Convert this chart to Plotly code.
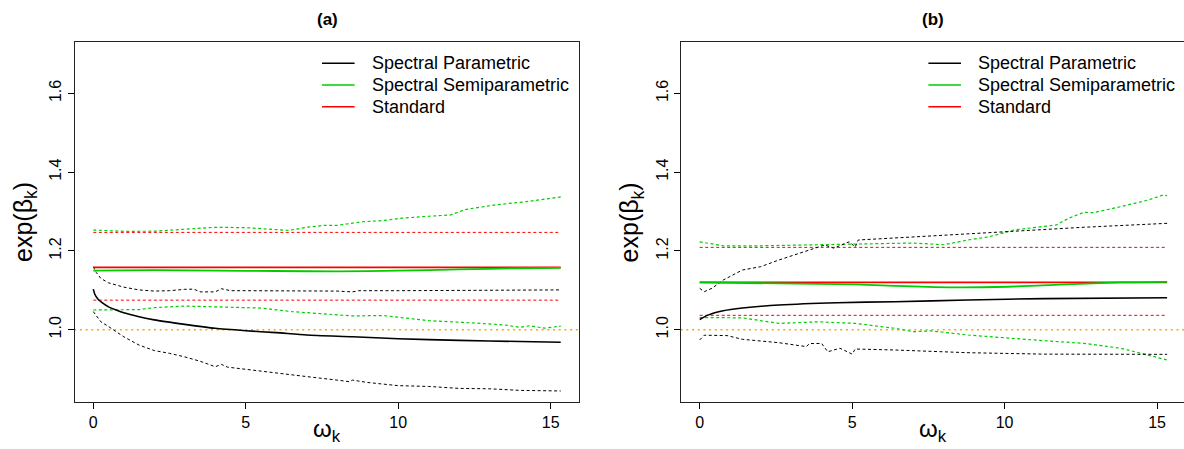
import plotly.graph_objects as go

# ---------------- data: panel (a) ----------------
a_par_x = [0, 0.05, 0.15, 0.3, 0.5, 0.75, 1, 1.5, 2, 3, 4, 5, 6, 7, 8.5, 10, 12, 14, 15.33]
a_par_y = [1.103, 1.09, 1.078, 1.068, 1.058, 1.05, 1.043, 1.033, 1.025, 1.0136, 1.0035, 0.9975,
           0.9925, 0.9865, 0.982, 0.977, 0.973, 0.970, 0.968]

a_par_up_x = [0, 0.1, 0.25, 0.5, 1, 1.5, 2, 2.5, 3, 3.3, 3.5, 4.0, 4.2, 4.5, 5, 6, 7, 8, 8.5, 8.7,
              10, 12, 14, 15.33]
a_par_up_y = [1.16, 1.145, 1.13, 1.119, 1.108, 1.101, 1.098, 1.099, 1.1025, 1.103, 1.096, 1.096,
              1.104, 1.099, 1.099, 1.099, 1.099, 1.098, 1.096, 1.099, 1.099, 1.1, 1.1, 1.101]

a_par_lo_x = [0, 0.1, 0.25, 0.5, 1, 1.5, 2, 2.5, 3, 3.5, 4, 4.2, 4.4, 5, 6, 7, 8, 8.4, 8.5, 9,
              10, 11, 12, 13, 14, 15.33]
a_par_lo_y = [1.046, 1.035, 1.02, 1.008, 0.982, 0.961, 0.947, 0.94, 0.931, 0.92, 0.906, 0.912,
              0.905, 0.8995, 0.891, 0.881, 0.872, 0.868, 0.872, 0.866, 0.858, 0.856, 0.851, 0.85,
              0.846, 0.8445]

a_semi_x = [0, 2, 4, 6, 8, 10, 12, 14, 15.33]
a_semi_y = [1.15, 1.151, 1.15, 1.149, 1.148, 1.150, 1.153, 1.156, 1.157]

a_semi_up_x = [0, 0.5, 1, 2, 3, 4, 5, 6, 6.4, 7, 7.6, 8, 8.85, 9.5, 10.1, 11, 11.7, 12.2, 13.2,
               14.2, 14.85, 15.33]
a_semi_up_y = [1.253, 1.251, 1.2497, 1.25, 1.2547, 1.26, 1.259, 1.254, 1.252, 1.26, 1.265, 1.265,
               1.274, 1.277, 1.283, 1.288, 1.291, 1.305, 1.317, 1.325, 1.332, 1.337]

a_semi_lo_x = [0, 1.5, 2, 2.5, 3, 4, 5.5, 6.5, 7.2, 8.5, 9.5, 11, 12.5, 13.5, 14, 14.3, 14.8, 15.33]
a_semi_lo_y = [1.05, 1.051, 1.056, 1.058, 1.06, 1.058, 1.055, 1.046, 1.042, 1.035, 1.036, 1.023,
               1.017, 1.012, 1.006, 1.01, 1.004, 1.009]

a_std = 1.158
a_std_up = 1.247
a_std_lo = 1.075

# ---------------- data: panel (b) ----------------
b_par_x = [0, 0.27, 0.77, 1.4, 2.6, 4.5, 6.4, 8.8, 11.3, 15.33]
b_par_y = [1.026, 1.037, 1.048, 1.055, 1.0627, 1.0686, 1.071, 1.0754, 1.079, 1.081]

b_par_up_x = [0, 0.15, 0.4, 0.77, 1.4, 2.0, 2.6, 3.6, 4.1, 4.4, 4.9, 5.1, 5.2, 7.6, 10.1, 12.6,
              15.33]
b_par_up_y = [1.105, 1.0965, 1.105, 1.126, 1.1515, 1.16, 1.177, 1.202, 1.215, 1.207, 1.223, 1.21,
              1.2277, 1.238, 1.249, 1.26, 1.27]

b_par_lo_x = [0, 0.15, 0.9, 1.4, 2.6, 3.5, 3.6, 4.0, 4.2, 4.6, 5.0, 5.1, 6.4, 8.8, 11.3, 15.33]
b_par_lo_y = [0.974, 0.986, 0.985, 0.9756, 0.967, 0.957, 0.965, 0.965, 0.944, 0.953, 0.938, 0.951,
              0.9485, 0.9416, 0.938, 0.9375]

b_semi_x = [0, 2.6, 5.1, 6.4, 8.2, 10.1, 12, 13.8, 15.33]
b_semi_y = [1.12, 1.1175, 1.115, 1.111, 1.1075, 1.109, 1.115, 1.12, 1.1215]

b_semi_up_x = [0, 0.77, 2.0, 3.3, 5.1, 7.0, 8.0, 8.8, 9.5, 10.3, 11.7, 12.1, 12.6, 12.9, 13.8,
               14.7, 15.2, 15.33]
b_semi_up_y = [1.223, 1.213, 1.213, 1.215, 1.219, 1.22, 1.2156, 1.2277, 1.236, 1.253, 1.266, 1.283,
               1.298, 1.297, 1.312, 1.329, 1.342, 1.34]

b_semi_lo_x = [0, 1.4, 2.6, 3.9, 5.1, 6.4, 7.0, 7.6, 8.8, 10.1, 11.3, 12.6, 13.8, 14.4, 15.33]
b_semi_lo_y = [1.031, 1.03, 1.016, 1.02, 1.016, 1.0035, 0.995, 0.997, 0.9865, 0.978, 0.972,
               0.9655, 0.953, 0.9416, 0.923]

b_std = 1.120
b_std_up = 1.209
b_std_lo = 1.0365

x_end = 15.33
ref_level = 1.0

legend_labels = ["Spectral Parametric", "Spectral Semiparametric", "Standard"]
panel_titles = ["(a)", "(b)"]
x_ticks = [0, 5, 10, 15]
y_ticks = [1.0, 1.2, 1.4, 1.6]

# ---------------- styling ----------------
FONT = "Liberation Sans, Arial, Helvetica, sans-serif"
BLACK = "#000000"
GREEN = "#00cd00"
RED = "#ff0000"
ORANGE = "#ffa500"
DASH = "3px,2.5px"

W, H = 1184, 449


def px_x(p):
    return p / W


def px_y(p):
    return 1 - p / H


fig = go.Figure()


def add_line(xs, ys, color, width, dash=None, axis=1, smooth=False):
    fig.add_trace(go.Scatter(
        x=xs, y=ys, mode="lines",
        line=dict(color=color, width=width, dash=dash or "solid",
                  shape="spline" if smooth else "linear", smoothing=0.6),
        xaxis="x" if axis == 1 else "x2",
        yaxis="y" if axis == 1 else "y2",
        showlegend=False, hoverinfo="skip",
    ))


panels = [
    dict(par=(a_par_x, a_par_y), par_up=(a_par_up_x, a_par_up_y), par_lo=(a_par_lo_x, a_par_lo_y),
         semi=(a_semi_x, a_semi_y), semi_up=(a_semi_up_x, a_semi_up_y),
         semi_lo=(a_semi_lo_x, a_semi_lo_y), std=a_std, std_up=a_std_up, std_lo=a_std_lo),
    dict(par=(b_par_x, b_par_y), par_up=(b_par_up_x, b_par_up_y), par_lo=(b_par_lo_x, b_par_lo_y),
         semi=(b_semi_x, b_semi_y), semi_up=(b_semi_up_x, b_semi_up_y),
         semi_lo=(b_semi_lo_x, b_semi_lo_y), std=b_std, std_up=b_std_up, std_lo=b_std_lo),
]

for i, p in enumerate(panels, start=1):
    # reference level across the whole plotting region
    add_line([-1, 17], [ref_level, ref_level], ORANGE, 1.6, dash="2px,3.7px", axis=i)
    # standard estimate and interval
    add_line([0, x_end], [p["std_up"]] * 2, RED, 1, DASH, axis=i)
    add_line([0, x_end], [p["std_lo"]] * 2, RED, 1, DASH, axis=i)
    # spectral semiparametric interval
    add_line(*p["semi_up"], GREEN, 1.2, DASH, axis=i)
    add_line(*p["semi_lo"], GREEN, 1.2, DASH, axis=i)
    # spectral parametric interval
    add_line(*p["par_up"], BLACK, 1, DASH, axis=i)
    add_line(*p["par_lo"], BLACK, 1, DASH, axis=i)
    # point estimates
    add_line([0, x_end], [p["std"]] * 2, RED, 1.8, axis=i)
    add_line(*p["semi"], GREEN, 1.8, axis=i, smooth=True)
    add_line(*p["par"], BLACK, 1.6, axis=i, smooth=True)

# plotting regions (pixel geometry of the two panels)
box_top, box_bot = 41.7, 402.0
a_left, a_right, a_zero = 74.7, 578.7, 93.3
b_left, b_right, b_zero = 681.0, 1184.0, 699.7
ppu = 30.49  # pixels per unit of omega
y_lo, y_hi = 0.8165, 1.731

common_x = dict(
    tickvals=x_ticks, ticktext=[str(t) for t in x_ticks],
    ticks="outside", ticklen=6, tickwidth=1, tickcolor=BLACK,
    showline=True, linecolor="#222", linewidth=1, mirror=True,
    showgrid=False, zeroline=False,
    tickfont=dict(family=FONT, size=16, color=BLACK),
)
common_y = dict(
    range=[y_lo, y_hi],
    domain=[px_y(box_bot), px_y(box_top)],
    tickvals=y_ticks, ticktext=["%.1f" % t for t in y_ticks],
    tickangle=-90,
    ticks="outside", ticklen=6, tickwidth=1, tickcolor=BLACK,
    showline=True, linecolor="#222", linewidth=1,
    showgrid=False, zeroline=False,
    tickfont=dict(family=FONT, size=16, color=BLACK),
)

fig.update_layout(
    width=W, height=H, autosize=False,
    margin=dict(l=0, r=0, t=0, b=0, pad=0),
    paper_bgcolor="white", plot_bgcolor="white",
    showlegend=False,
    xaxis=dict(common_x, domain=[px_x(a_left), px_x(a_right)],
               range=[(a_left - a_zero) / ppu, (a_right - a_zero) / ppu], anchor="y"),
    yaxis=dict(common_y, mirror=True, anchor="x"),
    xaxis2=dict(common_x, domain=[px_x(b_left), px_x(b_right)],
                range=[(b_left - b_zero) / ppu, (b_right - b_zero) / ppu], anchor="y2"),
    yaxis2=dict(common_y, mirror=False, anchor="x2"),
)

shapes = []
annotations = []
legend_colors = [BLACK, GREEN, RED]
legend_rows = [63.3, 85.0, 106.7]

for k, (left, right) in enumerate([(a_left, a_right + 1), (b_left, b_left + 504)]):
    off = 0 if k == 0 else b_zero - a_zero
    cx = (left + right) / 2
    # panel title
    annotations.append(dict(
        text="<b>%s</b>" % panel_titles[k], x=px_x(cx), y=px_y(19), xref="paper", yref="paper",
        showarrow=False, xanchor="center", yanchor="middle",
        font=dict(family=FONT, size=17, color=BLACK)))
    # axis titles
    annotations.append(dict(
        text="ω<sub>k</sub>", x=px_x(cx), y=px_y(448), xref="paper", yref="paper",
        showarrow=False, xanchor="center", yanchor="bottom",
        font=dict(family=FONT, size=24, color=BLACK)))
    annotations.append(dict(
        text="exp(β<sub>k</sub>)", x=px_x(25 + off), y=px_y(222), xref="paper", yref="paper",
        showarrow=False, xanchor="center", yanchor="middle", textangle=-90,
        font=dict(family=FONT, size=25, color=BLACK)))
    # legend
    for lab, col, ry in zip(legend_labels, legend_colors, legend_rows):
        shapes.append(dict(
            type="line", xref="paper", yref="paper",
            x0=px_x(322 + off), x1=px_x(354.6 + off), y0=px_y(ry), y1=px_y(ry),
            line=dict(color=col, width=1.6)))
        annotations.append(dict(
            text=lab, x=px_x(369.8 + off), y=px_y(ry), xref="paper", yref="paper",
            showarrow=False, xanchor="left", yanchor="middle",
            font=dict(family=FONT, size=18, color=BLACK)))

fig.update_layout(shapes=shapes, annotations=annotations)

fig.write_html("out.html")
